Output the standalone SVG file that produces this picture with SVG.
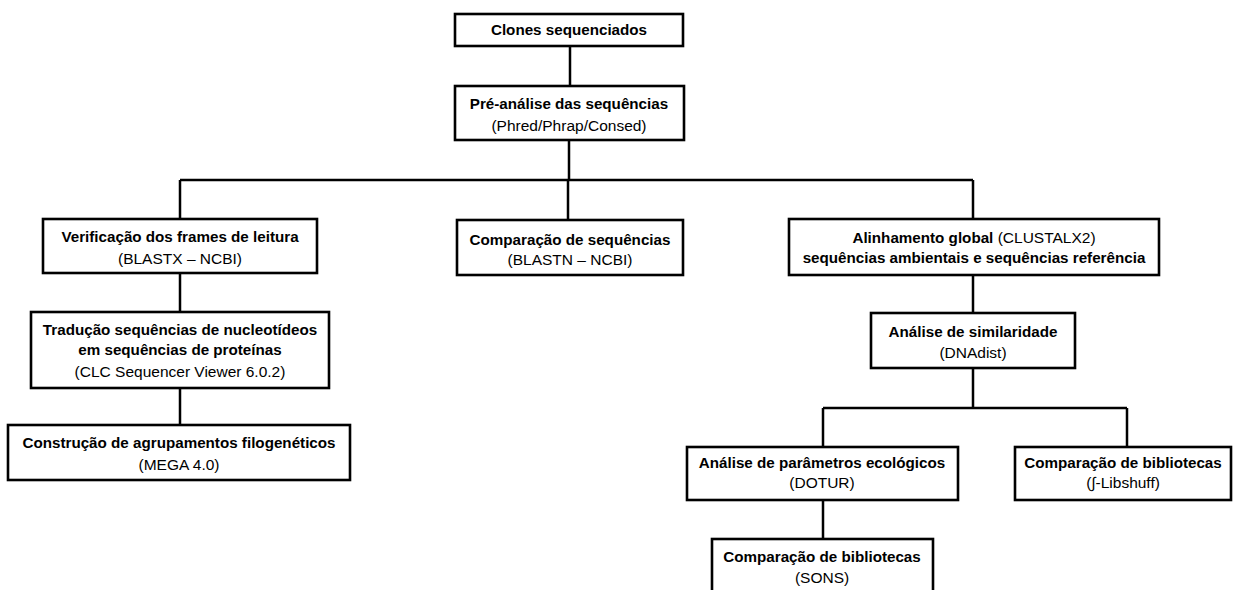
<svg xmlns="http://www.w3.org/2000/svg" width="1233" height="590" viewBox="0 0 1233 590">
<style>
.box{fill:#fff;stroke:#000;stroke-width:2.6}
.ln{fill:none;stroke:#000;stroke-width:2.5}
text{font-family:"Liberation Sans",Arial,sans-serif;font-size:15.5px;text-anchor:middle;fill:#000}
.b{font-weight:bold;font-size:15.2px}
</style>
<rect width="1233" height="590" fill="#fff"/>
<g id="connectors">
<path class="ln" d="M570 46V86M569 140V180M180 180H973M180 180V219M568 180V220M973 180V219M180 273V312M180 388V425M973 275V313M973 368V408M823 408H1127M823 408V447M1127 408V447M823 500V539"/>
</g>
<g id="n1"><rect class="box" x="455" y="14" width="228" height="32"/><text class="b" x="569" y="35">Clones sequenciados</text></g>
<g id="n2"><rect class="box" x="455" y="86" width="229" height="54"/><text class="b" x="569" y="109">Pré-análise das sequências</text><text x="569" y="131">(Phred/Phrap/Consed)</text></g>
<g id="n3"><rect class="box" x="43" y="219" width="274" height="54"/><text class="b" x="180" y="242">Verificação dos frames de leitura</text><text x="180" y="264">(BLASTX – NCBI)</text></g>
<g id="n4"><rect class="box" x="31" y="312" width="298" height="76"/><text class="b" x="180" y="335">Tradução sequências de nucleotídeos</text><text class="b" x="180" y="355">em sequências de proteínas</text><text x="180" y="377">(CLC Sequencer Viewer 6.0.2)</text></g>
<g id="n5"><rect class="box" x="8" y="425" width="342" height="55"/><text class="b" x="179" y="448">Construção de agrupamentos filogenéticos</text><text x="179" y="470">(MEGA 4.0)</text></g>
<g id="n6"><rect class="box" x="457" y="220" width="226" height="55"/><text class="b" x="570" y="245">Comparação de sequências</text><text x="570" y="265">(BLASTN – NCBI)</text></g>
<g id="n7"><rect class="box" x="789" y="219" width="370" height="56"/><text x="974" y="243"><tspan class="b">Alinhamento global</tspan> (CLUSTALX2)</text><text class="b" x="974" y="263">sequências ambientais e sequências referência</text></g>
<g id="n8"><rect class="box" x="871" y="313" width="204" height="55"/><text class="b" x="973" y="337">Análise de similaridade</text><text x="973" y="358">(DNAdist)</text></g>
<g id="n9"><rect class="box" x="687" y="447" width="271" height="53"/><text class="b" x="822" y="468">Análise de parâmetros ecológicos</text><text x="822" y="488">(DOTUR)</text></g>
<g id="n10"><rect class="box" x="1015" y="447" width="216" height="53"/><text class="b" x="1123" y="468">Comparação de bibliotecas</text><text x="1123" y="488">(∫-Libshuff)</text></g>
<g id="n11"><rect class="box" x="712" y="539" width="221" height="60"/><text class="b" x="822" y="562">Comparação de bibliotecas</text><text x="822" y="583">(SONS)</text></g>
</svg>
